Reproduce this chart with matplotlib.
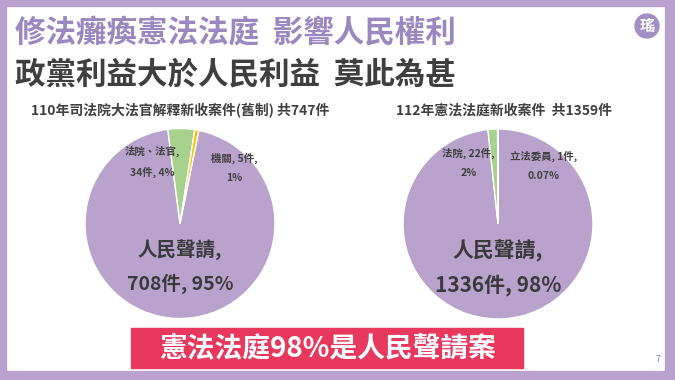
import matplotlib
matplotlib.use("Agg")
import matplotlib.pyplot as plt
from matplotlib.patches import Rectangle, Circle

plt.rcParams['font.family'] = ['Noto Sans CJK TC', 'DejaVu Sans']

# ---- data ----
title1 = "修法癱瘓憲法法庭  影響人民權利"
title2 = "政黨利益大於人民利益  莫此為甚"
left_title = "110年司法院大法官解釋新收案件(舊制) 共747件"
left_categories = ["人民聲請", "法院、法官", "機關"]
left_values = [708, 34, 5]
left_labels = ["人民聲請,\n708件, 95%", "法院、法官,\n34件, 4%", "機關, 5件,\n1%"]
right_title = "112年憲法法庭新收案件  共1359件"
right_categories = ["人民聲請", "法院", "立法委員"]
right_values = [1336, 22, 1]
right_labels = ["人民聲請,\n1336件, 98%", "法院, 22件,\n2%", "立法委員, 1件,\n0.07%"]
banner_text = "憲法法庭98%是人民聲請案"
page_no = "7"

W, H = 675, 380
FRAME = "#b9a2cd"
PURPLE = "#b9a3cd"
GREEN = "#a9d18e"
YELLOW = "#ffc000"
DARK = "#404040"

fig = plt.figure(figsize=(W / 100, H / 100), dpi=100)
fig.patch.set_facecolor("white")

def px(x, y):
    return x / W, 1 - y / H

# frame bands
for (x0, y0, w, h) in [(0, 0, W, 6), (0, 0, 6, H), (665, 0, 10, H), (0, 371, W, 9)]:
    fig.patches.append(Rectangle((x0 / W, 1 - (y0 + h) / H), w / W, h / H,
                                 transform=fig.transFigure, color=FRAME, zorder=0))

# titles
fig.text(*px(15, 33), title1, fontsize=22, fontweight="bold", color="#9c88c0",
         ha="left", va="center")
fig.text(*px(15, 74), title2, fontsize=22, fontweight="bold", color="#3f3f3f",
         ha="left", va="center")

# logo
cx, cy = px(647, 26)
fig.patches.append(Circle((647, H - 26), 12, transform=None, color="#a38fc2", zorder=2))
fig.text(cx, cy, "瑤", fontsize=11, color="white", ha="center", va="center",
         fontweight="bold", zorder=3)

def draw_pie(center, r, values, colors, start, labels, label_pos, big_size, title, title_pos):
    ax = fig.add_axes([(center[0] - r) / W, 1 - (center[1] + r) / H, 2 * r / W, 2 * r / H])
    ax.pie(values, colors=colors, startangle=start, counterclock=False, radius=1,
           wedgeprops=dict(edgecolor="white", linewidth=1.0))
    ax.set_xlim(-1, 1)
    ax.set_ylim(-1, 1)
    ax.set_aspect("equal")
    ax.axis("off")
    for i, (lab, pos) in enumerate(zip(labels, label_pos)):
        if i == 0:
            ax.text(pos[0], pos[1], lab, fontsize=big_size, fontweight="bold", color="#3a3a3a",
                    ha="center", va="center", linespacing=1.75)
        else:
            ax.text(pos[0], pos[1], lab, fontsize=7.5, fontweight="bold", color=DARK,
                    ha="center", va="center", linespacing=2.1)
    fig.text(*px(*title_pos), title, fontsize=10, fontweight="bold", color=DARK,
             ha="center", va="center")

draw_pie((180, 223.5), 95, left_values, [PURPLE, GREEN, YELLOW], 78.6, left_labels,
         [(0, -0.46), (-0.29, 0.65), (0.57, 0.59)], 14, left_title, (180, 111))
draw_pie((498, 224), 95, right_values, [PURPLE, GREEN, "#ffc000"], 90.0, right_labels,
         [(0, -0.47), (-0.31, 0.64), (0.48, 0.61)], 15, right_title, (504, 111))

# banner
fig.patches.append(Rectangle((131 / W, 1 - 368 / H), (523 - 131) / W, 40 / H,
                             transform=fig.transFigure, color="#e8385e", zorder=1))
fig.text(*px(327, 348), banner_text, fontsize=20, fontweight="bold", color="white",
         ha="center", va="center", zorder=2)

fig.text(*px(658, 360), page_no, fontsize=6, color="#7f7f7f", ha="center", va="center")

fig.savefig("out.png", dpi=100, facecolor="white")
